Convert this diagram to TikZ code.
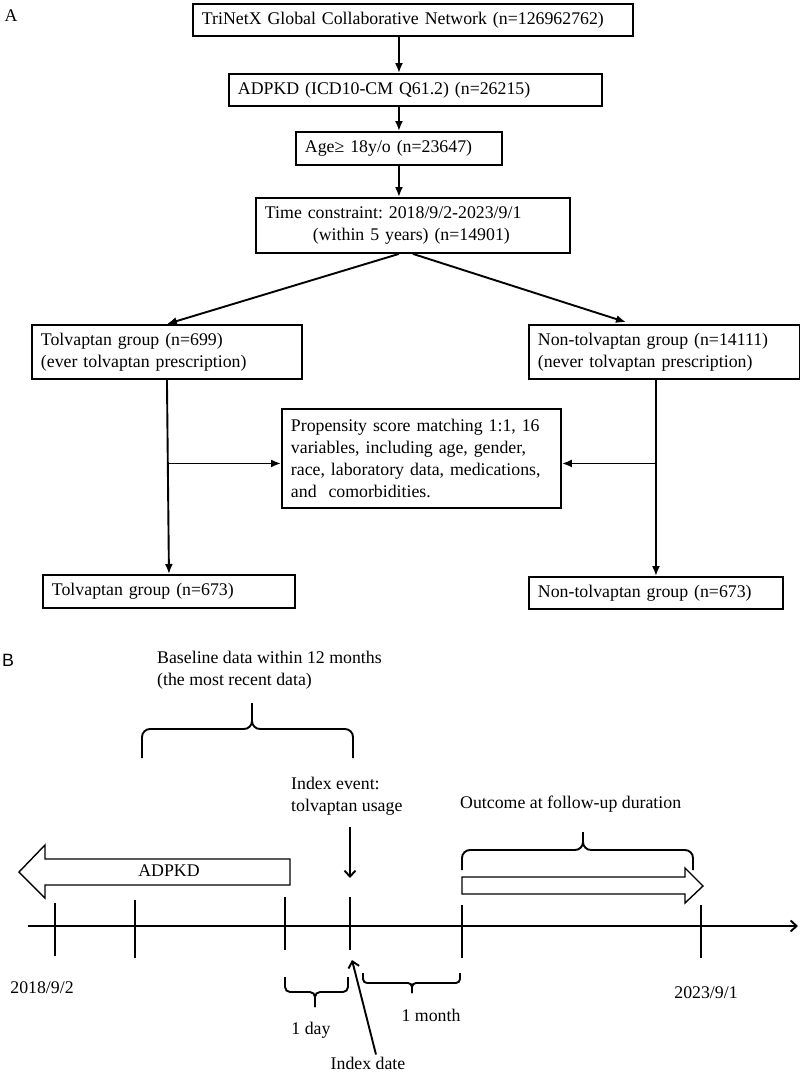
\documentclass[tikz,border=0pt]{standalone}
\usepackage{fontspec}
\setmainfont{Liberation Serif}
\setsansfont{Liberation Sans}
\usetikzlibrary{arrows.meta,calc}
\frenchspacing
\newcommand{\fs}{\fontsize{17.8}{22}\selectfont}
\tikzstyle{box}=[draw, line width=1.9pt, align=left, anchor=north west, inner xsep=9pt, inner ysep=0pt]
\tikzstyle{txt}=[inner sep=0pt, align=left]
\tikzstyle{tline}=[draw=black, line width=1.9pt]
\tikzstyle{arrow}=[draw=black, line width=1.9pt, -{Latex[length=10pt,width=8pt]}]
\tikzstyle{barb}=[draw=black, line width=1.9pt, -{Straight Barb[length=6pt,width=11pt]}]
\tikzstyle{blockarrow}=[draw=black, line width=1.4pt]
\newcommand{\brc}[7]{%
  \draw[tline, rounded corners=#7] (#1,#4) |- (#3,#5) -- (#3,#6);
  \draw[tline, rounded corners=#7] (#2,#4) |- (#3,#5) -- (#3,#6);}
\begin{document}
\begin{tikzpicture}[x=1pt, y=-1pt, every node/.style={font=\fs}]
	\useasboundingbox (0,0) rectangle (800,1074);
	\begin{scope}
		\node (labA) at (11,16) {A};
		\node[box, text width=422pt, minimum height=32pt] (net) at (192,3) {TriNetX Global Collaborative Network (n=126962762)};
		\node[box, text width=355pt, minimum height=32pt] (adpkd) at (228,73) {ADPKD (ICD10-CM Q61.2) (n=26215)};
		\node[box, text width=188pt, minimum height=33pt] (age) at (295,131) {Age≥ 18y/o (n=23647)};
		\node[box, text width=296pt, minimum height=55pt] (time) at (255,197) {Time constraint: 2018/9/2-2023/9/1\\\hspace*{48pt}(within 5 years) (n=14901)};
		\node[box, text width=252pt, minimum height=54pt] (tolv) at (31,324) {Tolvaptan group (n=699)\\(ever tolvaptan prescription)};
		\node[box, text width=253pt, minimum height=54pt] (nontolv) at (528,324) {Non-tolvaptan group (n=14111)\\(never tolvaptan prescription)};
		\node[box, text width=261pt, minimum height=99pt] (psm) at (281,408) {Propensity score matching 1:1, 16\\variables, including age, gender,\\race, laboratory data, medications,\\and~ comorbidities.};
		\node[box, text width=234pt, minimum height=33pt] (m1) at (42,574) {Tolvaptan group (n=673)};
		\node[box, text width=236pt, minimum height=32pt] (m2) at (528,576) {Non-tolvaptan group (n=673)};
	\end{scope}
	\begin{scope}
		\draw[arrow] (net.south -| age.north) -- (adpkd.north -| age.north);
		\draw[arrow] (adpkd.south -| age.north) -- (age.north);
		\draw[arrow] (age.south) -- (time.north -| age.south);
		\draw[arrow] (time.south -| age.south) -- (tolv.north);
		\draw[arrow, shorten >=6pt] (time.south) -- ($(nontolv.north west)!0.38!(nontolv.north east)$);
		\draw[arrow] (tolv.south) -- (m1.north);
		\draw[arrow] (nontolv.south -| m2.north) -- (m2.north);
		\draw[arrow] ([yshift=-5pt]tolv.south |- psm.west) -- ([yshift=-5pt]psm.west);
		\draw[arrow] ([yshift=-5pt]m2.north |- psm.east) -- ([yshift=-5pt]psm.east);
	\end{scope}
	\begin{scope}
		\node[font=\fs\sffamily] (labB) at (8,660) {B};
		\node[txt, anchor=west] (base) at (157,670) {Baseline data within 12 months\\(the most recent data)};
		\node[txt, anchor=west] (event) at (291,796) {Index event:\\tolvaptan usage};
		\node[txt, anchor=west] (outc) at (460,804) {Outcome at follow-up duration};
		\node[txt] (adpkdtxt) at (169,871) {ADPKD};
		\node[txt] (start) at (42,988) {2018/9/2};
		\node[txt] (end) at (706,993) {2023/9/1};
		\node[txt] (day) at (311,1030) {1 day};
		\node[txt] (month) at (431,1015) {1 month};
		\node[txt] (idxdate) at (368,1063) {Index date};
		\coordinate (ax0) at (28,926);
		\coordinate (ax1) at (798,926);
		\coordinate (evtip) at (350,878);
		\coordinate (idxpt) at (352,960);
	\end{scope}
	\begin{scope}
		\draw[blockarrow] (290,859) -- (45,859) -- (45,845) -- (19,872) -- (45,898) -- (45,885) -- (290,885) -- cycle;
		\draw[blockarrow] (462,877) -- (685,877) -- (685,868) -- (703,886) -- (685,903) -- (685,894) -- (462,894) -- cycle;
		\draw[barb] (ax0) -- (ax1);
		\foreach \x/\a/\b in {55/903/956, 135/900/958, 285/897/950, 350/897/950, 462/905/958, 701/905/958}
			\draw[tline] (\x,\a) -- (\x,\b);
		\brc{142}{353}{252}{758}{729}{703}{8pt}
		\brc{462}{693}{583}{870}{850}{832}{8pt}
		\brc{285}{348}{315}{977}{992}{1007}{5pt}
		\brc{363}{460}{412}{973}{983}{993}{4pt}
		\draw[barb] ([yshift=-12pt]event.south -| evtip) -- (evtip);
		\draw[barb] ([xshift=8pt,yshift=2pt]idxdate.north) -- (idxpt);
	\end{scope}
\end{tikzpicture}
\end{document}
